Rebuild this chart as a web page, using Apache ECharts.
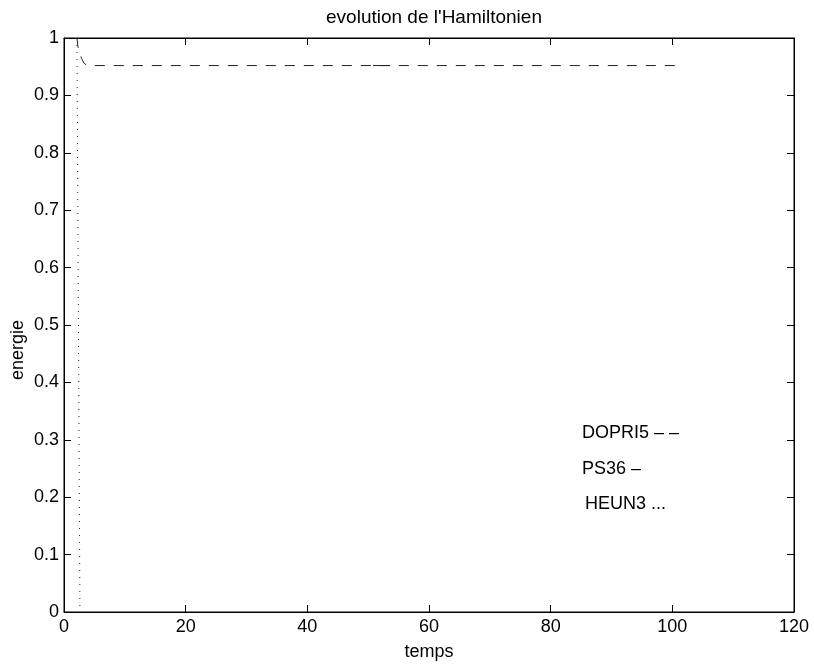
<!DOCTYPE html>
<html>
<head>
<meta charset="utf-8">
<script src="https://cdn.jsdelivr.net/npm/echarts@6/dist/echarts.min.js"></script>
<style>
  html, body { margin: 0; padding: 0; background: #fff; }
  #chart { width: 814px; height: 666px; }
</style>
</head>
<body>
<div id="chart"></div>
<script>
// axis ranges / ticks
const xTicks = [0, 20, 40, 60, 80, 100, 120]
const yTicks = [0, 0.1, 0.2, 0.3, 0.4, 0.5, 0.6, 0.7, 0.8, 0.9, 1]

// DOPRI5 (dashed): quick drop near t=2 then flat
const dopriT = [2.13, 2.3, 2.6, 2.9, 3.3, 3.8, 101.2]
const dopriE = [1.0, 0.985, 0.972, 0.964, 0.956, 0.952, 0.952]

// PS36 (solid): only a short visible piece
const psT = [50.8, 53.6]
const psE = [0.952, 0.952]

// HEUN3 (dotted): near-vertical fall
const heunT = [2.13, 2.62]
const heunE = [1.0, 0.0]

const legendTexts = ["DOPRI5 – –", "PS36 –", "HEUN3 ..."]

const zip = (a, b) => a.map((v, i) => [v, b[i]])
const font = "Liberation Sans, Arial, sans-serif"
const fs = 18

const tick = { show: true, inside: true, length: 7, lineStyle: { color: "#000", width: 1 } }
const line = { show: true, onZero: false, lineStyle: { color: "#000", width: 1 } }

const chart = echarts.init(document.getElementById("chart"))
chart.setOption({
  animation: false,
  title: {
    text: "evolution de l'Hamiltonien",
    left: 429, top: 3, textAlign: "center",
    textStyle: { fontFamily: font, fontSize: 19, fontWeight: "normal", color: "#000" }
  },
  grid: { left: 64, right: 20, top: 38, bottom: 54, show: true, borderColor: "#000", borderWidth: 1 },
  xAxis: [
    {
      type: "value", min: xTicks[0], max: xTicks[xTicks.length - 1], interval: 20, position: "bottom",
      axisLine: line, axisTick: tick,
      axisLabel: { fontFamily: font, fontSize: fs, color: "#000", margin: 6 },
      splitLine: { show: false }
    },
    {
      type: "value", min: xTicks[0], max: xTicks[xTicks.length - 1], interval: 20, position: "top",
      axisLine: line, axisTick: tick,
      axisLabel: { show: false }, splitLine: { show: false }
    }
  ],
  yAxis: [
    {
      type: "value", min: yTicks[0], max: yTicks[yTicks.length - 1], interval: 0.1, position: "left",
      axisLine: line, axisTick: tick,
      axisLabel: {
        fontFamily: font, fontSize: fs, color: "#000", margin: 5,
        formatter: v => String(Math.round(v * 10) / 10)
      },
      splitLine: { show: false }
    },
    {
      type: "value", min: yTicks[0], max: yTicks[yTicks.length - 1], interval: 0.1, position: "right",
      axisLine: line, axisTick: tick,
      axisLabel: { show: false }, splitLine: { show: false }
    }
  ],
  series: [
    {
      name: "DOPRI5", type: "line", data: zip(dopriT, dopriE),
      symbol: "none", clip: true,
      lineStyle: { color: "#222", width: 1, type: [10, 9] }
    },
    {
      name: "PS36", type: "line", data: zip(psT, psE),
      symbol: "none",
      lineStyle: { color: "#222", width: 1, type: "solid" }
    },
    {
      name: "HEUN3", type: "line", data: zip(heunT, heunE),
      symbol: "none", clip: true,
      lineStyle: { color: "#222", width: 1, type: [1, 6] }
    },
    {
      // keeps the top / right frame axes alive
      name: "frame", type: "line", xAxisIndex: 1, yAxisIndex: 1,
      data: [], symbol: "none", silent: true
    }
  ],
  graphic: [
    { type: "text", left: 582, top: 424, style: { text: legendTexts[0], font: fs + "px " + font, fill: "#000" } },
    { type: "text", left: 582, top: 460, style: { text: legendTexts[1], font: fs + "px " + font, fill: "#000" } },
    { type: "text", left: 585, top: 495, style: { text: legendTexts[2], font: fs + "px " + font, fill: "#000" } },
    {
      type: "text", x: 429, y: 652,
      style: { text: "temps", font: fs + "px " + font, fill: "#000", align: "center", verticalAlign: "middle" }
    },
    {
      type: "text", x: 18, y: 350, rotation: Math.PI / 2,
      style: { text: "energie", font: fs + "px " + font, fill: "#000", align: "center", verticalAlign: "middle" }
    }
  ]
})
</script>
</body>
</html>
